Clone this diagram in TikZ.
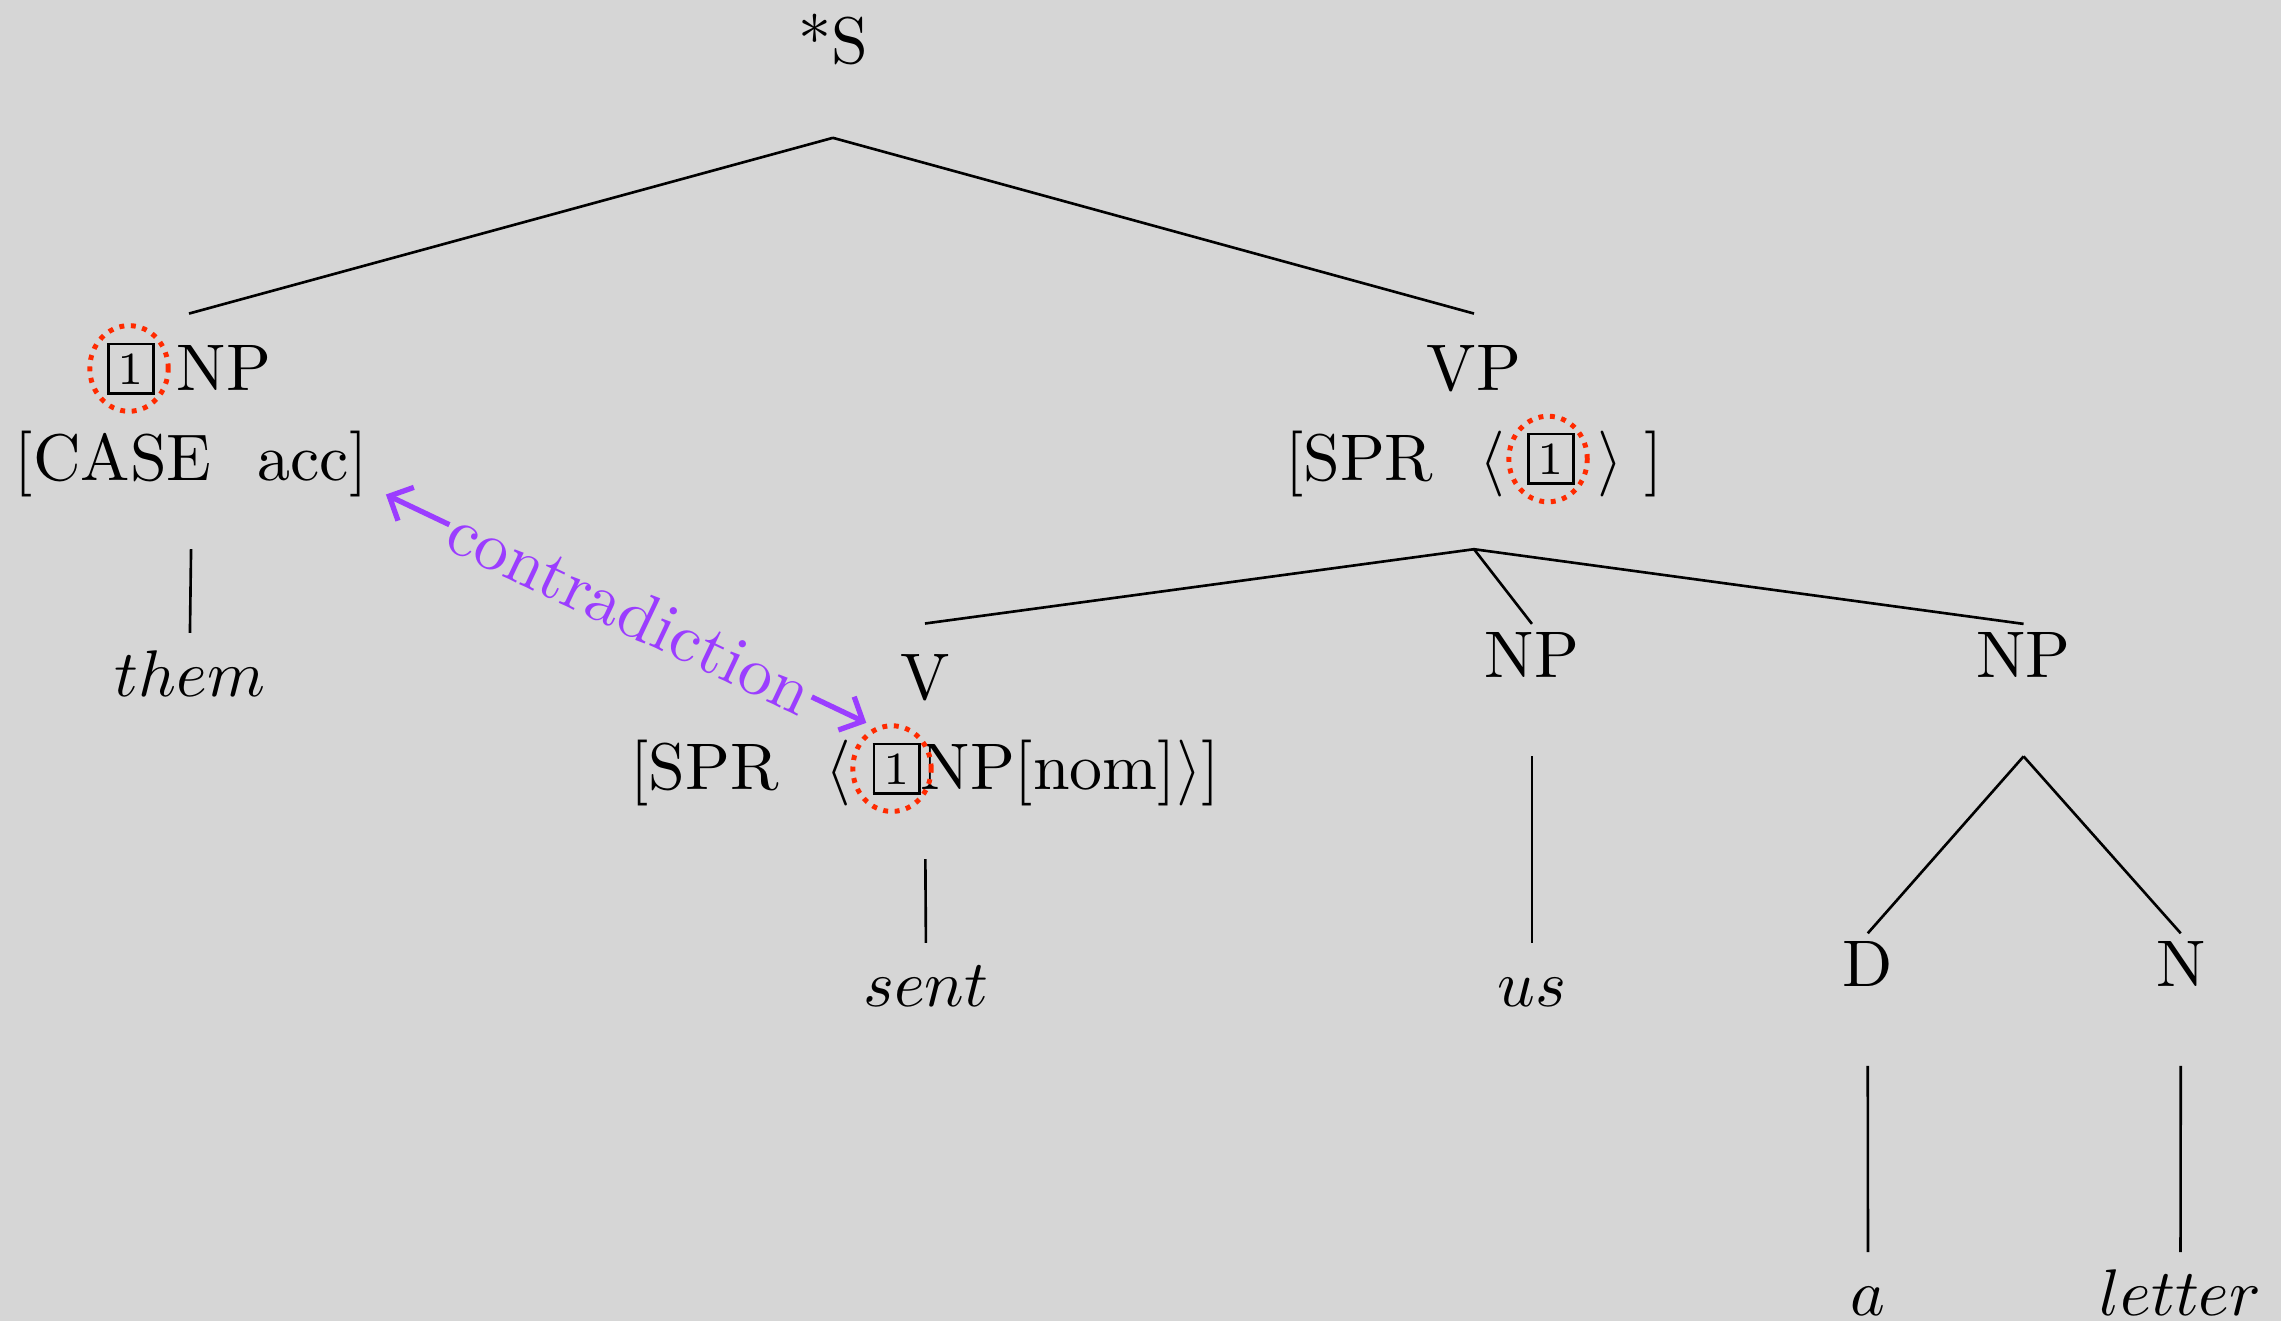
\documentclass[tikz,border=0pt]{standalone}
\usepackage{amsmath,amssymb}
\usepackage{xcolor}
\usepackage{tikz}
\usetikzlibrary{arrows.meta,positioning,calc,shapes.geometric}
\definecolor{treeBg}{HTML}{D6D6D6}
\definecolor{tagRing}{HTML}{FF2A00}
\definecolor{clashViolet}{HTML}{9B3DFF}
\newcommand{\tagbox}[1]{\raisebox{0.9pt}{\setlength{\fboxsep}{1.25pt}\fbox{\scriptsize #1}}}

\begin{document}
\begin{tikzpicture}[
  lbl/.style={inner sep=0pt,anchor=base},
  top/.style={lbl,text depth=11.1pt},
  head/.style={lbl,text height=11.4pt},
  feat/.style={lbl,text depth=10.3pt},
  cat/.style={lbl,text height=7.9pt,text depth=11.8pt},
  word/.style={lbl,text height=9.5pt},
  ring/.style={draw=tagRing,ellipse,line width=0.75pt,dash pattern=on 0.75pt off 1pt,minimum width=11.9pt,minimum height=13pt,inner sep=0pt},
  clash/.style={{Straight Barb[length=2.8pt,width=5.6pt]}-{Straight Barb[length=2.8pt,width=5.6pt]},thick,draw=clashViolet,shorten >=1.5pt}
]
\useasboundingbox[fill=treeBg] (0,0) rectangle (12.165,-7.045);
\node[top] (s) at (4.442,-0.338) {*S};
\node[head] (np1) at (1.008,-2.080) {\tagbox{1} NP};
\node[feat,inner xsep=2.6pt] (np1f) at (1.019,-2.560) {[CASE\hspace{7pt}acc]};
\node[word] (them) at (1.013,-3.716) {$them$};
\node[head] (vp) at (7.861,-2.080) {VP};
\node[feat] (vpf) at (7.861,-2.560) {[SPR\hspace{7pt}$\langle$ \tagbox{1} $\rangle$ ]};
\node[head] (v) at (4.933,-3.733) {V};
\node[feat] (vf) at (4.935,-4.213) {[SPR\hspace{7pt}$\langle$ \tagbox{1}NP[nom]$\rangle$]};
\node[word] (sent) at (4.938,-5.369) {$sent$};
\node[cat] (np2) at (8.170,-3.612) {NP};
\node[word] (us) at (8.170,-5.369) {$us$};
\node[cat] (np3) at (10.792,-3.612) {NP};
\node[cat] (d) at (9.961,-5.262) {D};
\node[cat] (n) at (11.630,-5.262) {N};
\node[word] (a) at (9.962,-7.018) {$a$};
\node[word] (letter) at (11.629,-7.018) {$letter$};
\draw (s.south) -- (np1.north);
\draw (s.south) -- (vp.north);
\draw (np1f.south) -- (them.north);
\draw (vpf.south) -- (v.north);
\draw (vpf.south) -- (np2.north);
\draw (vpf.south) -- (np3.north);
\draw (vf.south) -- (sent.north);
\draw (np2.south) -- (us.north);
\draw (np3.south) -- (d.north);
\draw (np3.south) -- (n.north);
\draw (d.south) -- (a.north);
\draw (n.south) -- (letter.north);
\node[ring] (r1) at (0.688,-1.965) {};
\node[ring] (r2) at (8.256,-2.448) {};
\node[ring] (r3) at (4.757,-4.099) {};
\draw[clash] ([yshift=-0.8pt]np1f.east) -- node[midway,sloped,fill=treeBg,inner sep=0.5pt,text=clashViolet,font=\fontsize{10.4}{12.5}\selectfont] {contradiction} (r3.112);
\end{tikzpicture}
\end{document}
